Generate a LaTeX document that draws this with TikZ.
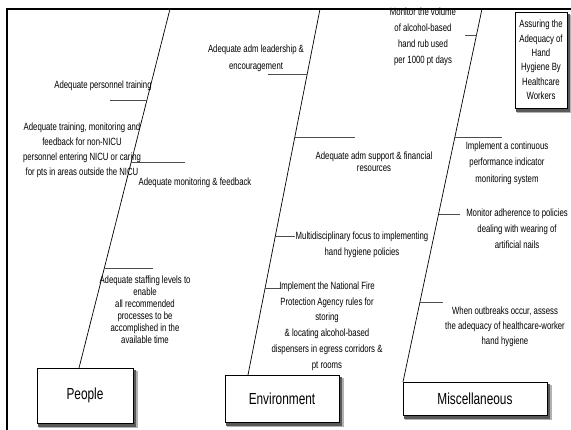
\documentclass[tikz,border=0pt]{standalone}
\usepackage{fontspec}
\setmainfont{Liberation Sans}
\newfontfamily\nar[FakeStretch=0.74]{Liberation Sans}
\usetikzlibrary{calc,backgrounds}
\tikzset{
  lbl/.style={font=\nar\fontsize{10.5}{#1}\selectfont, align=center, inner sep=0pt},
  lbl/.default=15.5,
  catbox/.style={draw, fill=white, line width=0.8pt, inner sep=0pt,
    font=\nar\fontsize{16}{18}\selectfont},
  softshade/.style={fill=black!30},
  darkshade/.style={fill=black!65},
  spine/.style={line width=0.7pt},
  twig/.style={line width=0.9pt, black!70},
  frameline/.style={line width=2.2pt},
}
\begin{document}
\begin{tikzpicture}[x=1pt,y=-1pt]
\useasboundingbox (0,0) rectangle (571,430);

% category boxes
\node[catbox, minimum width=96pt, minimum height=55pt] (people) at (85,395.5) {People};
\node[catbox, minimum width=114pt, minimum height=47pt] (env) at (282,398.5) {Environment};
\node[catbox, minimum width=144pt, minimum height=33pt] (misc) at (475,398.5) {Miscellaneous};
\node[catbox, minimum width=52pt, minimum height=96pt, lbl=14.4] (title) at (541,60)
  {Assuring the\\Adequacy of\\Hand\\Hygiene By\\Healthcare\\Workers};

% shadows behind the boxes
\begin{scope}[on background layer]
\foreach \b in {people,env,misc,title}{
  \fill[softshade] ($(\b.north west)+(2,3)$) rectangle ($(\b.south east)+(4.5,5)$);
  \fill[darkshade] ($(\b.north west)+(1.5,2)$) rectangle ($(\b.south east)+(3,3.2)$);
}
\end{scope}

% spine end points
\coordinate (s1top) at (170,9);  \coordinate (s1bot) at (79,368);
\coordinate (s2top) at (320,9);  \coordinate (s2bot) at (248,375);
\coordinate (s3top) at (482,9);  \coordinate (s3bot) at (403,382);
\draw[spine] (s1top) -- (s1bot);
\draw[spine] (s2top) -- (s2bot);
\draw[spine] (s3top) -- (s3bot);

% branch points on spines
\coordinate (p1) at (146.9,100); \coordinate (p1e) at (110,100);
\coordinate (p2) at (131.2,162); \coordinate (p2e) at (185,162);
\coordinate (p3) at (104.3,268); \coordinate (p3e) at (153,268);
\coordinate (e1) at (307.2,74);  \coordinate (e1e) at (268,74);
\coordinate (e2) at (294.8,137); \coordinate (e2e) at (355,137);
\coordinate (e3) at (275.3,236); \coordinate (e3e) at (295,236);
\coordinate (e4) at (265.1,288); \coordinate (e4e) at (281,288);
\coordinate (m1) at (476.5,35);  \coordinate (m1e) at (465,35);
\coordinate (m2) at (454.9,137); \coordinate (m2e) at (502,137);
\coordinate (m3) at (438.6,214); \coordinate (m3e) at (460,214);
\coordinate (m4) at (419.9,302); \coordinate (m4e) at (443,302);
\foreach \a in {p1,p2,p3,e1,e2,e3,e4,m1,m2,m3,m4}
  \draw[twig] (\a) -- (\a e);

% labels: People
\node[lbl] (tp1) at (103,86) {Adequate personnel training};
\node[lbl=15] (tp2) at (82,150) {Adequate training, monitoring and\\feedback for non-NICU\\personnel entering NICU or caring\\for pts in areas outside the NICU};
\node[lbl] (tp3) at (195,183) {Adequate monitoring \& feedback};
\node[lbl=12] (tp4) at (145,310) {Adequate staffing levels to\\enable\\all recommended\\processes to be\\accomplished in the\\available time};

% labels: Environment
\node[lbl=17] (te1) at (256,58) {Adequate adm leadership \&\\encouragement};
\node[lbl=12.3] (te2) at (374,162) {Adequate adm support \& financial\\resources};
\node[lbl=16] (te3) at (362,245) {Multidisciplinary focus to implementing\\hand hygiene policies};
\node[lbl=15.8] (te4) at (327,326) {Implement the National Fire\\Protection Agency rules for\\storing\\\& locating alcohol-based\\dispensers in egress corridors \&\\pt rooms};

% labels: Miscellaneous
\node[lbl=16] (tm1) at (423,37) {Monitor the volume\\of alcohol-based\\hand rub used\\per 1000 pt days};
\node[lbl=16.5] (tm2) at (507,163) {Implement a continuous\\performance indicator\\monitoring system};
\node[lbl=16] (tm3) at (517,229) {Monitor adherence to policies\\dealing with wearing of\\artificial nails};
\node[lbl=15] (tm4) at (505,327) {When outbreaks occur, assess\\the adequacy of healthcare-worker\\hand hygiene};

% frame
\draw[frameline] (571,9) -- (7,9) -- (7,430);
\end{tikzpicture}
\end{document}
